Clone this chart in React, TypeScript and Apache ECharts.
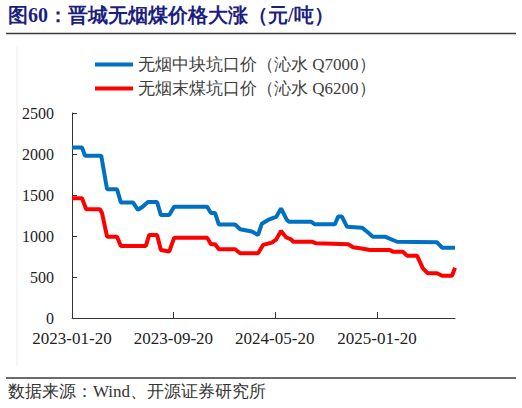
import React, { useEffect, useRef } from 'react'
import * as echarts from 'echarts'

// 无烟中块坑口价（沁水 Q7000）
const blueDates = [
  '2023-01-20', '2023-02-13', '2023-02-20', '2023-03-31', '2023-04-14', '2023-05-08',
  '2023-05-17', '2023-06-15', '2023-06-27', '2023-07-09', '2023-07-21', '2023-08-12',
  '2023-08-21', '2023-09-10', '2023-09-22', '2023-12-10', '2023-12-19', '2023-12-29',
  '2024-01-07', '2024-02-15', '2024-02-27', '2024-03-26', '2024-04-10', '2024-04-19',
  '2024-05-04', '2024-05-18', '2024-05-23', '2024-06-04', '2024-06-18', '2024-06-23',
  '2024-08-15', '2024-08-24', '2024-10-11', '2024-10-19', '2024-10-28', '2024-11-09',
  '2024-12-15', '2024-12-29', '2025-01-10', '2025-02-08', '2025-03-09', '2025-06-13',
  '2025-06-25', '2025-07-26',
]
const blueValues = [
  2080, 2080, 1980, 1980, 1570, 1570,
  1410, 1410, 1320, 1360, 1415, 1415,
  1255, 1255, 1358, 1358, 1280, 1280,
  1140, 1140, 1082, 1055, 1013, 1150,
  1196, 1224, 1230, 1335, 1196, 1175,
  1175, 1143, 1143, 1237, 1237, 1114,
  1102, 1045, 992, 992, 930, 923,
  858, 858,
]

// 无烟末煤坑口价（沁水 Q6200）
const redDates = [
  '2023-01-20', '2023-02-13', '2023-02-23', '2023-03-28', '2023-04-02', '2023-04-14',
  '2023-05-08', '2023-05-17', '2023-07-16', '2023-07-24', '2023-08-12', '2023-08-21',
  '2023-09-10', '2023-09-22', '2023-12-10', '2023-12-19', '2023-12-29', '2024-01-07',
  '2024-02-15', '2024-02-27', '2024-04-10', '2024-04-22', '2024-05-13', '2024-05-23',
  '2024-06-04', '2024-06-16', '2024-06-28', '2024-07-03', '2024-08-17', '2024-08-27',
  '2024-11-12', '2024-11-24', '2024-12-18', '2025-01-03', '2025-02-20', '2025-02-27',
  '2025-03-23', '2025-04-02', '2025-04-26', '2025-05-10', '2025-05-22', '2025-06-13',
  '2025-06-25', '2025-07-19', '2025-07-26',
]
const redValues = [
  1460, 1460, 1326, 1326, 1280, 992,
  992, 878, 878, 1013, 1013, 830,
  810, 980, 980, 899, 899, 838,
  838, 789, 789, 891, 919, 955,
  1061, 985, 960, 931, 931, 911,
  899, 862, 845, 830, 830, 809,
  809, 760, 760, 606, 545, 545,
  516, 516, 613,
]

const seriesNames = ['无烟中块坑口价（沁水 Q7000）', '无烟末煤坑口价（沁水 Q6200）']
const tickDates = ['2023-01-20', '2023-09-20', '2024-05-20', '2025-01-20']
const axisStart = '2023-01-20'
const axisEnd = '2025-07-26'

const toTime = (s: string) => {
  const [y, m, d] = s.split('-').map(Number)
  return new Date(y, m - 1, d).getTime()
}
const fmt = (v: number) => {
  const d = new Date(v)
  const p = (n: number) => String(n).padStart(2, '0')
  return `${d.getFullYear()}-${p(d.getMonth() + 1)}-${p(d.getDate())}`
}

const serif = 'Liberation Serif'

const App = () => {
  const chartRef = useRef<HTMLDivElement>(null)

  useEffect(() => {
    if (!chartRef.current) return
    const chart = echarts.init(chartRef.current, null, { renderer: 'svg' })
    const ticks = tickDates.map(toTime)

    chart.setOption({
      animation: false,
      backgroundColor: '#fff',
      graphic: [
        {
          type: 'text', left: 8, top: 5,
          style: {
            text: '图60：晋城无烟煤价格大涨（元/吨）', fill: '#1c1f80',
            fontFamily: serif, fontWeight: 'bold', fontSize: 20,
          },
        },
        { type: 'line', shape: { x1: 6, y1: 33.5, x2: 516, y2: 33.5 }, style: { stroke: '#3a3a3a', lineWidth: 1.5 } },
        { type: 'line', shape: { x1: 17, y1: 46, x2: 17, y2: 366 }, style: { stroke: '#ececec', lineWidth: 1 } },
        { type: 'line', shape: { x1: 6, y1: 378, x2: 516, y2: 378 }, style: { stroke: '#3a3a3a', lineWidth: 1.5 } },
        {
          type: 'text', left: 8, top: 383,
          style: { text: '数据来源：Wind、开源证券研究所', fill: '#333', fontFamily: serif, fontSize: 17 },
        },
      ],
      legend: {
        orient: 'vertical',
        left: 95,
        top: 56,
        padding: 0,
        icon: 'rect',
        itemWidth: 38,
        itemHeight: 4,
        itemGap: 7,
        data: seriesNames,
        textStyle: { fontFamily: serif, fontSize: 17, color: '#404040' },
      },
      grid: { left: 72, right: 67, top: 113, bottom: 90 },
      xAxis: {
        type: 'value',
        min: toTime(axisStart),
        max: toTime(axisEnd),
        splitLine: { show: false },
        axisLine: { lineStyle: { color: '#333', width: 1 } },
        axisTick: { inside: true, length: 6, customValues: ticks, lineStyle: { color: '#333' } },
        axisLabel: {
          customValues: ticks,
          formatter: (v: number) => fmt(v),
          margin: 12,
          color: '#222',
          fontFamily: serif,
          fontSize: 17,
        },
      },
      yAxis: {
        type: 'value',
        min: 0,
        max: 2500,
        interval: 500,
        splitLine: { show: false },
        axisLine: { show: true, lineStyle: { color: '#333', width: 1 } },
        axisTick: { show: true, inside: true, length: 5, lineStyle: { color: '#333' } },
        axisLabel: {
          formatter: (v: number) => String(v),
          margin: 18, color: '#222', fontFamily: serif, fontSize: 16,
        },
      },
      series: [
        {
          name: seriesNames[0],
          type: 'line',
          symbol: 'none',
          data: blueDates.map((d, i) => [toTime(d), blueValues[i]]),
          lineStyle: { color: '#0070C0', width: 4 },
          itemStyle: { color: '#0070C0' },
        },
        {
          name: seriesNames[1],
          type: 'line',
          symbol: 'none',
          data: redDates.map((d, i) => [toTime(d), redValues[i]]),
          lineStyle: { color: '#FF0000', width: 4 },
          itemStyle: { color: '#FF0000' },
        },
      ],
    })

    return () => chart.dispose()
  }, [])

  return <div ref={chartRef} style={{ position: 'absolute', left: 0, top: 0, width: 522, height: 408 }} />
}

export default App
